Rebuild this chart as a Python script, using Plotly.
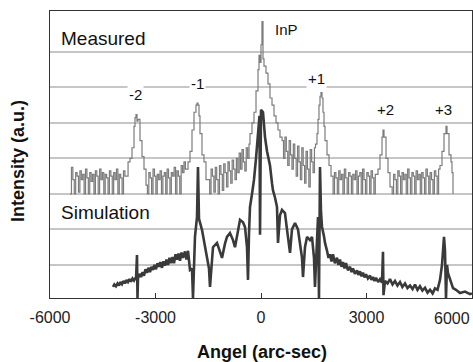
import plotly.graph_objects as go

# ---- Measured rocking curve (angle in arc-sec, intensity in a.u. offset) ----
measured_angle = [
    # noise floor, left
    -5430, -5390, -5350, -5310, -5270, -5230, -5190, -5150, -5110, -5070, -5030, -4990, -4950, -4910,
    -4870, -4830, -4790, -4750, -4710, -4670, -4630, -4590, -4550, -4510, -4470, -4430, -4390, -4350,
    -4310, -4270, -4230, -4190, -4150, -4110, -4070, -4030, -3990, -3950, -3910, -3870,
    # satellite -2
    -3820, -3780, -3725, -3668, -3611, -3583, -3555, -3526, -3498, -3441, -3384, -3327, -3270,
    # noise
    -3230, -3190, -3150, -3110, -3070, -3030, -2990, -2950, -2910, -2870, -2830, -2790, -2750, -2710,
    -2670, -2630, -2590, -2550, -2510, -2470, -2430, -2390, -2350, -2310, -2270, -2230, -2190, -2150,
    # satellite -1
    -2075, -2019, -1962, -1905, -1849, -1820, -1792, -1763, -1735, -1678, -1621, -1564,
    # noise rising toward InP
    -1500, -1460, -1420, -1380, -1340, -1300, -1260, -1220, -1180, -1140, -1100, -1060, -1020, -980,
    -940, -900, -860, -820, -780, -740, -700, -660,
    -620, -580, -540, -500, -460, -420, -380, -340,
    # InP substrate peak
    -313, -256, -199, -142, -85, -57, -28, 0, 28, 57, 85, 142, 199, 256, 313, 370, 427, 483, 540,
    # noise, right shoulder
    600, 640, 680, 720, 760, 800, 840, 880, 920, 960, 1000, 1040, 1080, 1120, 1160, 1200, 1240, 1280,
    1320, 1360, 1400, 1440, 1480, 1520,
    # satellite +1
    1550, 1592, 1621, 1649, 1678, 1706, 1735, 1763, 1792, 1820, 1877, 1934, 1991,
    # noise
    2050, 2090, 2130, 2170, 2210, 2250, 2290, 2330, 2370, 2410, 2450, 2490, 2530, 2570, 2610, 2650,
    2690, 2730, 2770, 2810, 2850, 2890, 2930, 2970, 3010, 3050, 3090, 3130, 3170, 3210, 3250,
    # satellite +2
    3327, 3384, 3441, 3469, 3498, 3555, 3611, 3668,
    # noise
    3730, 3770, 3810, 3850, 3890, 3930, 3970, 4010, 4050, 4090, 4130, 4170, 4210, 4250, 4290, 4330,
    4370, 4410, 4450, 4490, 4530, 4570, 4610, 4650, 4690, 4730, 4770, 4810, 4850, 4890, 4930, 4970,
    5010, 5050,
    # satellite +3
    5090, 5147, 5204, 5261, 5289, 5346, 5403, 5431, 5460,
]
measured_intensity = [
    3.0, 3.75, 3.4, 3.0, 3.6, 3.5, 3.05, 3.65, 3.4, 3.55, 3.0, 3.7, 3.45, 3.0,
    3.6, 3.35, 3.55, 3.0, 3.65, 3.5, 3.0, 3.7, 3.4, 3.6, 3.0, 3.55, 3.45, 3.0,
    3.65, 3.5, 3.0, 3.6, 3.4, 3.7, 3.0, 3.55, 3.45, 3.0, 3.65, 3.5,
    3.5, 3.9, 4.0, 4.3, 4.9, 5.15, 5.23, 5.05, 5.1, 4.5, 4.05, 3.7, 3.25,
    3.0, 3.6, 3.45, 3.0, 3.7, 3.5, 3.0, 3.55, 3.4, 3.65, 3.0, 3.5, 3.6, 3.0,
    3.7, 3.45, 3.0, 3.6, 3.5, 3.75, 3.0, 3.65, 3.5, 3.0, 3.8, 3.6, 3.9, 3.7,
    3.9, 4.2, 4.8, 5.3, 5.5, 5.56, 5.5, 5.2, 4.7, 4.1, 3.9, 3.4,
    3.4, 3.0, 3.7, 3.5, 3.05, 3.75, 3.4, 3.0, 3.8, 3.55, 3.1, 3.85, 3.6, 3.2,
    3.9, 3.65, 3.3, 3.95, 3.7, 3.4, 4.0, 3.6,
    4.15, 3.7, 4.25, 3.9, 3.65, 4.3, 4.0, 4.4,
    4.7, 5.0, 5.3, 5.9, 6.5, 6.9, 6.7, 7.2, 7.85, 6.8, 6.6, 6.4, 6.1, 5.7, 5.5, 5.2, 5.0, 4.8, 4.6,
    4.5, 4.0, 4.6, 4.2, 3.8, 4.5, 4.1, 3.7, 4.4, 4.0, 3.5, 4.35, 3.9, 3.4, 4.3, 3.8, 3.3, 4.2,
    3.7, 3.2, 4.25, 3.9, 3.6, 4.3,
    4.4, 4.7, 5.1, 5.5, 5.75, 5.85, 5.7, 5.3, 4.9, 4.5, 4.1, 3.8, 3.5,
    3.0, 3.6, 3.45, 3.0, 3.65, 3.4, 3.55, 3.0, 3.7, 3.45, 3.0, 3.6, 3.5, 3.0, 3.55, 3.4,
    3.65, 3.0, 3.5, 3.6, 3.0, 3.7, 3.4, 3.0, 3.6, 3.5, 3.0, 3.65, 3.45, 3.0, 3.55,
    3.7, 4.1, 4.6, 4.8, 4.6, 4.0, 3.6, 3.2,
    3.0, 3.55, 3.4, 3.0, 3.65, 3.5, 3.0, 3.6, 3.4, 3.55, 3.0, 3.7, 3.45, 3.0, 3.6, 3.5,
    3.0, 3.65, 3.4, 3.55, 3.0, 3.6, 3.45, 3.0, 3.7, 3.5, 3.0, 3.6, 3.4, 3.0, 3.65, 3.5,
    3.0, 3.7,
    3.8, 4.2, 4.7, 4.9, 4.7, 4.1, 3.9, 3.6, 3.0,
]

# ---- Simulated rocking curve ----
simulation_angle = [
    -4209, -4170, -4124, -4080, -4038, -3995, -3953, -3910, -3867, -3825, -3782, -3740, -3697, -3655,
    -3611, -3570, -3555, -3526, -3512, -3498, -3455, -3412, -3370, -3327, -3285, -3242, -3200, -3156,
    -3115, -3071, -3030, -2986, -2945, -2900, -2858, -2815, -2772, -2730, -2688, -2644, -2600, -2559,
    -2515, -2474, -2430, -2388, -2345, -2303, -2260, -2218, -2161, -2120, -2075,
    -2019, -1962, -1934, -1877, -1820, -1792, -1763, -1678, -1621, -1536, -1479, -1450, -1393,
    -1365, -1251, -1166, -1109, -1024, -967, -882, -796, -740, -654, -597, -512, -455, -398, -370,
    -341, -313, -256, -199, -142, -85, -43, -28, 0, 57, 114, 171, 256, 313, 341, 398, 455, 483, 540,
    597, 682, 739, 825, 881, 967, 1052, 1109, 1166, 1194, 1251, 1308, 1393, 1450, 1507, 1535, 1592,
    1621, 1649, 1678, 1706, 1735, 1792, 1820,
    1877, 1920, 1962, 2005, 2047, 2100, 2161, 2200, 2246, 2290, 2331, 2375, 2417, 2470, 2531, 2575,
    2616, 2670, 2730, 2770, 2815, 2860, 2900, 2945, 2986, 3040, 3100, 3140, 3184, 3230, 3270, 3330,
    3384, 3441, 3469, 3483, 3526, 3600, 3668, 3740, 3810, 3880, 3953, 4020, 4095, 4165, 4237, 4310,
    4379, 4450, 4521, 4590, 4664, 4735, 4806, 4880, 4948, 5020,
    5090, 5147, 5204, 5232, 5261, 5289, 5318, 5375, 5460, 5545, 5659, 5801, 5943, 6000,
]
simulation_intensity = [
    0.38, 0.45, 0.40, 0.48, 0.42, 0.52, 0.46, 0.55, 0.48, 0.58, 0.52, 0.6, 0.53, 0.62,
    0.56, 0.64, 0.58, 1.28, 0.07, 0.62, 0.75, 0.66, 0.8, 0.7, 0.88, 0.78, 0.92, 0.8,
    0.95, 0.86, 1.0, 0.88, 1.05, 0.95, 1.08, 0.92, 1.1, 0.98, 1.15, 1.0, 1.2, 1.05,
    1.22, 1.05, 1.3, 1.15, 1.32, 1.12, 1.35, 1.2, 1.38, 1.15, 1.4,
    0.86, 0.9, 0.07, 1.8, 2.35, 3.76, 2.3, 1.99, 1.7, 1.23, 0.9, 0.38, 1.2,
    1.5, 1.62, 1.4, 1.2, 1.6, 1.79, 1.9, 1.7, 1.5, 2.0, 2.27, 2.2, 2.07, 1.5, 0.58,
    1.9, 2.63, 3.0, 3.4, 4.0, 4.6, 5.2, 1.85, 5.37, 5.3, 4.6, 4.2, 3.8, 3.3, 3.1, 2.9, 2.63, 1.62, 2.4,
    2.55, 2.46, 2.0, 1.34, 2.0, 2.18, 2.0, 1.6, 1.2, 0.66, 1.5, 1.79, 1.7, 1.79, 1.2, 0.38, 1.8,
    2.35, 0.07, 3.76, 2.5, 2.07, 1.8, 1.62,
    1.4, 1.2, 1.3, 1.1, 1.3, 1.05, 1.2, 1.0, 1.15, 0.95, 1.08, 0.9, 1.05, 0.85, 0.95, 0.8,
    0.9, 0.75, 0.85, 0.72, 0.82, 0.68, 0.78, 0.65, 0.74, 0.62, 0.7, 0.58, 0.66, 0.55, 0.64, 0.52,
    0.6, 0.5, 1.37, 0.15, 0.55, 0.48, 0.6, 0.45, 0.55, 0.42, 0.52, 0.38, 0.48, 0.35, 0.42, 0.32,
    0.45, 0.3, 0.4, 0.28, 0.36, 0.22, 0.3, 0.2, 0.34, 0.3,
    0.58, 1.0, 1.79, 1.4, 0.07, 1.0, 0.77, 0.6, 0.35, 0.3, 0.21, 0.25, 0.18, 0.2,
]

x_tick_values = [-6000, -3000, 0, 3000, 6000]
x_tick_labels = ["-6000", "-3000", "0", "3000", ""]
x_last_label = "6000"
y_grid_values = [1, 2, 3, 4, 5, 6, 7]

peak_labels = ["-2", "-1", "+1", "+2", "+3"]
peak_label_x = [-3555, -1820, 1565, 3527, 5176]
peak_label_y = [5.79, 6.1, 6.24, 5.37, 5.37]

assert len(measured_angle) == len(measured_intensity)
assert len(simulation_angle) == len(simulation_intensity)

FONT = "Liberation Sans, Arial, sans-serif"

fig = go.Figure()
fig.add_trace(go.Scatter(x=measured_angle, y=measured_intensity, mode="lines",
                         line=dict(color="#7c7c7c", width=1.2, shape="hv"), name="Measured",
                         showlegend=False))
fig.add_trace(go.Scatter(x=simulation_angle, y=simulation_intensity, mode="lines",
                         line=dict(color="#3a3a3a", width=2.6), name="Simulation",
                         showlegend=False))

annotations = []
for t, ax_, ay_ in zip(peak_labels, peak_label_x, peak_label_y):
    annotations.append(dict(x=ax_, y=ay_, text=t, showarrow=False, bgcolor="white",
                            font=dict(size=15, color="#111", family=FONT)))
annotations.append(dict(x=342, y=7.62, text="InP", showarrow=False, xanchor="left",
                        font=dict(size=15, color="#111", family=FONT)))
annotations.append(dict(x=-5744, y=7.39, text="Measured", showarrow=False, xanchor="left",
                        font=dict(size=19, color="#111", family=FONT)))
annotations.append(dict(x=-5744, y=2.49, text="Simulation", showarrow=False, xanchor="left",
                        font=dict(size=19, color="#111", family=FONT)))
# last tick label kept inside the figure, flush with the right frame
annotations.append(dict(x=x_tick_values[-1], xref="x", yref="paper", y=(298 - 318) / 287,
                        xanchor="right", yanchor="middle", text=x_last_label, showarrow=False,
                        font=dict(size=16, color="#222", family=FONT)))
annotations.append(dict(xref="paper", yref="paper", x=(262 - 50) / 422, y=(298 - 352) / 287,
                        xanchor="center", yanchor="middle",
                        text="<b>Angel (arc-sec)</b>", showarrow=False,
                        font=dict(size=18, color="#111", family=FONT)))
annotations.append(dict(xref="paper", yref="paper", x=(18 - 50) / 422, y=(298 - 161) / 287,
                        xanchor="center", yanchor="middle",
                        text="<b>Intensity (a.u.)</b>", showarrow=False, textangle=-90,
                        font=dict(size=18, color="#111", family=FONT)))

fig.update_layout(
    width=473, height=362,
    margin=dict(l=50, r=1, t=11, b=64),
    paper_bgcolor="white", plot_bgcolor="white",
    template="none",
    showlegend=False,
    annotations=annotations,
    xaxis=dict(range=[-6000, 6000], tickvals=x_tick_values, ticktext=x_tick_labels,
               showgrid=False, zeroline=False, showline=True, mirror=True,
               linecolor="#333", linewidth=1.2, ticks="inside", ticklen=5,
               tickcolor="#333", tickwidth=1, automargin=False, ticklabelstandoff=5,
               tickfont=dict(size=16, color="#222", family=FONT)),
    yaxis=dict(range=[0.07, 8.15], tickvals=y_grid_values, showticklabels=False,
               showgrid=True, gridcolor="#c6c6c6", gridwidth=2, zeroline=False,
               showline=True, mirror=True, linecolor="#333", linewidth=1.2,
               ticks="", automargin=False),
)

fig.write_html("out.html")
